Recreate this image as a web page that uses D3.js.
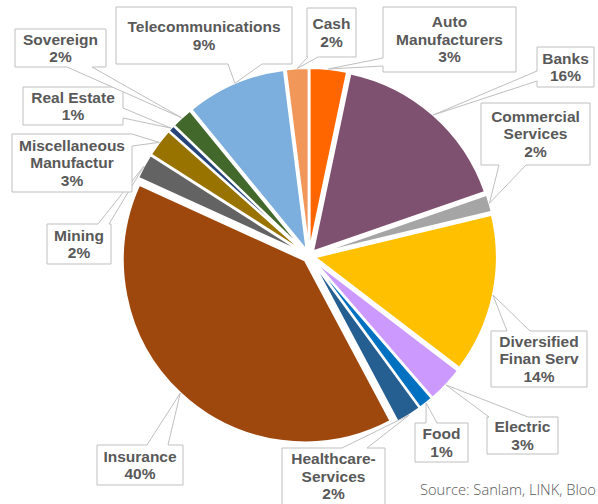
<!DOCTYPE html>
<html>
<head>
<meta charset="utf-8">
<script src="https://cdn.jsdelivr.net/npm/d3@7"></script>
<style>
  html, body { margin: 0; padding: 0; background: #fff; }
  svg { display: block; }
</style>
</head>
<body>
<svg id="chart" width="598" height="504"></svg>
<script>
// ---- data ----
const categories = ["Auto Manufacturers", "Banks", "Commercial Services", "Diversified Finan Serv",
  "Electric", "Food", "Healthcare-Services", "Insurance", "Mining", "Miscellaneous Manufactur",
  "Real Estate", "Sovereign", "Telecommunications", "Cash"];
const values = [3.3, 16.4, 1.55, 14.15, 3.25, 1.3, 2.25, 39.6, 2.25, 2.55, 0.6, 1.9, 8.9, 2.0];
const labelLines = [["Auto", "Manufacturers"], ["Banks"], ["Commercial", "Services"], ["Diversified", "Finan Serv"],
  ["Electric"], ["Food"], ["Healthcare-", "Services"], ["Insurance"], ["Mining"], ["Miscellaneous", "Manufactur"],
  ["Real Estate"], ["Sovereign"], ["Telecommunications"], ["Cash"]];
const colors = ["#FF6600", "#7E5170", "#A5A5A5", "#FFC000", "#CC99FF", "#0070C0", "#255E91",
  "#9E480E", "#636363", "#997300", "#264478", "#43682B", "#7CAFDD", "#F1975A"];
const sourceText = "Source: Sanlam, LINK, Bloo";

// ---- layout (callout boxes: x, y, w, h, wedge side, wedge base from, to) ----
const boxes = [
  [383, 7, 133, 65, "left", 58, 66],
  [537, 47, 57, 40, "left", 71, 81],
  [481, 103, 109, 62, "bottom", 499, 526],
  [491, 331, 96, 56, "top", 507, 530],
  [487, 417, 71, 37, "top", 489, 528],
  [415, 423, 53, 39, "top", 426, 437],
  [282, 448, 103, 57, "top", 342, 367],
  [97, 445, 86, 40, "top", 147, 168],
  [47, 224, 64, 40, "top", 98, 109],
  [12, 134, 120, 58, "right", 134, 146],
  [23, 87, 100, 38, "right", 108, 118],
  [15, 29, 91, 38, "bottom", 67, 92],
  [116, 7, 176, 57, "bottom", 228, 262],
  [307, 8, 49, 49, "bottom", 308, 318]
];

const cx = 309, cy = 256, R = 182, explode = 6;
const svg = d3.select("#chart");

const pie = d3.pie().sort(null).value(d => d).startAngle(0).endAngle(2 * Math.PI);
const arcs = pie(values);
const arc = d3.arc().innerRadius(0).outerRadius(R);

const g = svg.append("g").attr("transform", `translate(${cx},${cy})`);

function offset(d, e) {
  const m = (d.startAngle + d.endAngle) / 2;
  return [Math.sin(m) * e, -Math.cos(m) * e];
}

g.selectAll("path.slice")
  .data(arcs)
  .join("path")
  .attr("class", "slice")
  .attr("d", arc)
  .attr("fill", (d, i) => colors[i])
  .attr("stroke", "#fff")
  .attr("stroke-width", 2)
  .attr("stroke-linejoin", "miter")
  .attr("transform", d => { const o = offset(d, explode); return `translate(${o[0]},${o[1]})`; });

// callouts
const labelsG = svg.append("g");
arcs.forEach((d, i) => {
  const [bx, by, bw, bh, side, b1, b2] = boxes[i];
  const o = offset(d, R + explode);
  const tx = cx + o[0], ty = cy + o[1];
  let p;
  const x2 = bx + bw, y2 = by + bh;
  if (side === "bottom") {
    p = `M${bx},${by}H${x2}V${y2}H${b2}L${tx},${ty}L${b1},${y2}H${bx}Z`;
  } else if (side === "top") {
    p = `M${bx},${by}H${b1}L${tx},${ty}L${b2},${by}H${x2}V${y2}H${bx}Z`;
  } else if (side === "left") {
    p = `M${bx},${by}H${x2}V${y2}H${bx}V${b2}L${tx},${ty}L${bx},${b1}Z`;
  } else {
    p = `M${bx},${by}H${x2}V${b1}L${tx},${ty}L${x2},${b2}V${y2}H${bx}Z`;
  }
  labelsG.append("path")
    .attr("d", p)
    .attr("fill", "#fff")
    .attr("stroke", "#BFBFBF")
    .attr("stroke-width", 1);

  const lines = labelLines[i].concat([Math.round(values[i]) + "%"]);
  const lh = 17.5;
  const midY = by + bh / 2;
  const startY = midY - (lines.length - 1) * lh / 2;
  const t = labelsG.append("text")
    .attr("text-anchor", "middle")
    .attr("font-family", "'Liberation Sans', Arial, sans-serif")
    .attr("font-weight", 700)
    .attr("font-size", 15.5)
    .attr("fill", "#595959");
  lines.forEach((ln, k) => {
    t.append("tspan")
      .attr("x", bx + bw / 2)
      .attr("y", startY + k * lh)
      .attr("dy", "0.35em")
      .text(ln);
  });
});

svg.append("text")
  .attr("x", 420)
  .attr("y", 495)
  .attr("font-family", "'Open Sans', sans-serif")
  .attr("font-weight", 300)
  .attr("font-size", 14.7)
  .attr("fill", "#595959")
  .text(sourceText);
</script>
</body>
</html>
